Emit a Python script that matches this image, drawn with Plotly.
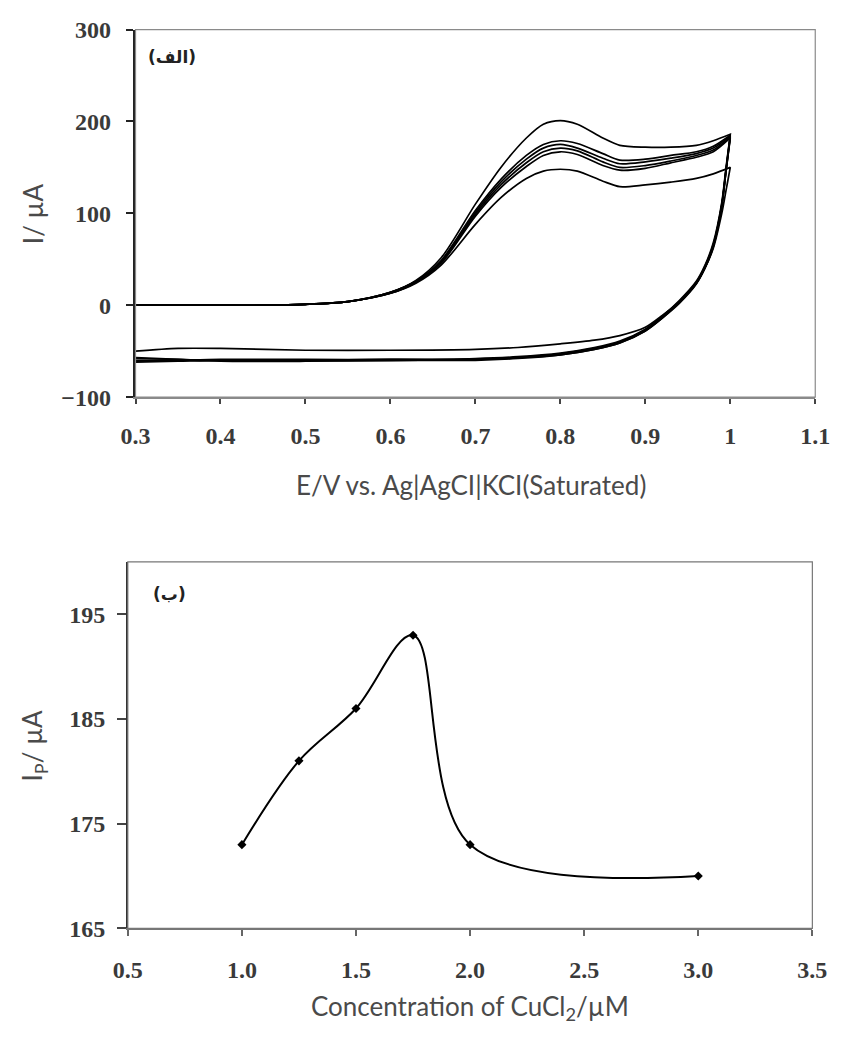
import plotly.graph_objects as go

# page is 853x1052 but the body has an 8px default margin
W, H = 837, 1036
OFF = 8

# ---------------- Panel (الف): cyclic voltammograms ----------------
E_fwd = [0.30, 0.35, 0.40, 0.45, 0.50, 0.55, 0.60, 0.63, 0.66, 0.70, 0.73, 0.76,
         0.78, 0.80, 0.82, 0.85, 0.87, 0.90, 0.93, 0.96, 0.98, 1.00]
I_fwd_1 = [0, 0, 0, 0, 1, 4, 14, 27, 52, 110, 150, 182, 197, 201, 197, 182, 174, 172, 172, 174, 179, 186]
I_fwd_2 = [0, 0, 0, 0, 1, 4, 14, 26, 49, 103, 137, 163, 175, 179, 176, 165, 158, 159, 163, 167, 173, 185]
I_fwd_3 = [0, 0, 0, 0, 1, 4, 14, 26, 48, 101, 134, 159, 171, 175, 171, 160, 154, 156, 160, 165, 171, 184]
I_fwd_4 = [0, 0, 0, 0, 1, 4, 13, 25, 47, 99, 131, 155, 167, 171, 168, 156, 150, 152, 157, 163, 169, 183]
I_fwd_5 = [0, 0, 0, 0, 1, 4, 13, 25, 46, 97, 128, 151, 163, 167, 164, 152, 147, 149, 155, 161, 167, 182]
I_fwd_6 = [0, 0, 0, 0, 1, 4, 13, 24, 44, 88, 117, 138, 146, 148, 146, 135, 129, 131, 134, 138, 143, 150]

E_rev = [1.00, 0.995, 0.99, 0.98, 0.97, 0.96, 0.94, 0.92, 0.90, 0.87, 0.84, 0.80,
         0.75, 0.70, 0.60, 0.50, 0.40, 0.35, 0.30]
I_rev_1 = [186, 150, 112, 68, 43, 26, 5, -12, -26, -39, -46, -52, -56, -58, -59, -59, -59, -60, -61]
I_rev_2 = [185, 148, 110, 66, 42, 25, 4, -13, -27, -40, -47, -53, -57, -59, -60, -60, -60, -61, -62]
I_rev_3 = [184, 147, 109, 65, 41, 24, 3, -13, -27, -40, -47, -53, -57, -59, -60, -60, -60, -60, -60]
I_rev_4 = [183, 146, 108, 64, 40, 24, 3, -14, -28, -41, -48, -54, -57, -59, -59, -60, -60, -59, -58]
I_rev_5 = [182, 146, 108, 64, 40, 23, 2, -14, -28, -41, -48, -54, -58, -60, -60, -61, -61, -59, -57]
I_rev_6 = [150, 125, 100, 62, 40, 24, 4, -11, -24, -33, -38, -42, -46, -48, -49, -49, -47, -47, -50]

# ---------------- Panel (ب): peak current vs concentration ----------------
conc = [1.0, 1.25, 1.5, 1.75, 2.0, 3.0]
ip = [173, 181, 186, 193, 173, 170]

fwd_sets = [I_fwd_1, I_fwd_2, I_fwd_3, I_fwd_4, I_fwd_5, I_fwd_6]
rev_sets = [I_rev_1, I_rev_2, I_rev_3, I_rev_4, I_rev_5, I_rev_6]

fig = go.Figure()
for f, r in zip(fwd_sets, rev_sets):
    fig.add_trace(go.Scatter(x=E_fwd + E_rev, y=f + r, mode="lines",
                             line=dict(color="black", width=1.7, shape="spline", smoothing=0.8),
                             xaxis="x", yaxis="y", showlegend=False, hoverinfo="skip"))

fig.add_trace(go.Scatter(x=conc, y=ip, mode="lines+markers",
                         line=dict(color="black", width=2, shape="spline", smoothing=1.0),
                         marker=dict(symbol="diamond", size=7, color="black"),
                         xaxis="x2", yaxis="y2", showlegend=False))


def px_x(p):
    return min(max((p - OFF) / W, 0), 1)


def px_y(p):
    return min(max(1 - (p - OFF) / H, 0), 1)


tick_font = dict(family="Liberation Serif", size=24, color="#3a3a3a", weight="bold")
title_font = dict(family="Lato", size=26, color="#4a4a4a")


def note(text, x, y, font, angle=0):
    return dict(text=text, x=px_x(x), y=px_y(y), xref="paper", yref="paper",
                xanchor="center", yanchor="middle", showarrow=False,
                textangle=angle, font=font)


fig.update_layout(
    width=W, height=H,
    margin=dict(l=0, r=0, t=0, b=0),
    paper_bgcolor="white", plot_bgcolor="white",
    xaxis=dict(domain=[px_x(133), px_x(838)], range=[0.3, 1.1], dtick=0.1, tick0=0.3,
               showgrid=False, zeroline=False, showline=True, linecolor="#8a8a8a", linewidth=1.5,
               ticks="outside", ticklen=5, tickcolor="#444", tickwidth=1.5,
               ticklabelstandoff=11, ticklabeloverflow="allow", tickfont=tick_font, anchor="y"),
    yaxis=dict(domain=[px_y(402), px_y(25)], range=[-100, 300], dtick=100,
               showgrid=False, zeroline=False, showline=True, linecolor="#222", linewidth=2.5,
               ticks="outside", ticklen=7, tickcolor="#222", tickwidth=2,
               ticklabelstandoff=10, ticklabeloverflow="allow", tickfont=tick_font, anchor="x"),
    xaxis2=dict(domain=[px_x(125), px_x(835)], range=[0.5, 3.5], dtick=0.5, tick0=0.5,
                tickformat=".1f",
                showgrid=False, zeroline=False, showline=True, linecolor="#777", linewidth=2,
                ticks="outside", ticklen=6, tickcolor="#666", tickwidth=1.5,
                ticklabelstandoff=13, ticklabeloverflow="allow", tickfont=tick_font, anchor="y2"),
    yaxis2=dict(domain=[px_y(947), px_y(571)], range=[165, 200],
                tickvals=[165, 175, 185, 195],
                showgrid=False, zeroline=False, showline=True, linecolor="#333", linewidth=1.5,
                ticks="outside", ticklen=9, tickcolor="#444", tickwidth=1.5,
                ticklabelstandoff=7, ticklabeloverflow="allow", tickfont=tick_font, anchor="x2"),
    shapes=[
        dict(type="rect", xref="paper", yref="paper",
             x0=px_x(133), x1=px_x(838), y0=px_y(402), y1=px_y(25),
             line=dict(color="#8a8a8a", width=1.2)),
        dict(type="rect", xref="paper", yref="paper",
             x0=px_x(125), x1=px_x(835), y0=px_y(947), y1=px_y(571),
             line=dict(color="#777", width=1.2)),
    ],
    annotations=[
        note("I/ µA", 27, 214, title_font, -90),
        note("E/V vs. Ag|AgCI|KCI(Saturated)", 481, 492, title_font),
        note("I<sub>P</sub>/ µA", 27, 760, title_font, -90),
        note("Concentration of CuCl<sub>2</sub>/µM", 480, 1028, title_font),
        note("<b>(الف)</b>", 171, 53, dict(family="DejaVu Sans", size=17, color="#222")),
        note("<b>(ب)</b>", 168, 604, dict(family="DejaVu Sans", size=17, color="#222")),
    ],
)

fig.write_html("out.html")
